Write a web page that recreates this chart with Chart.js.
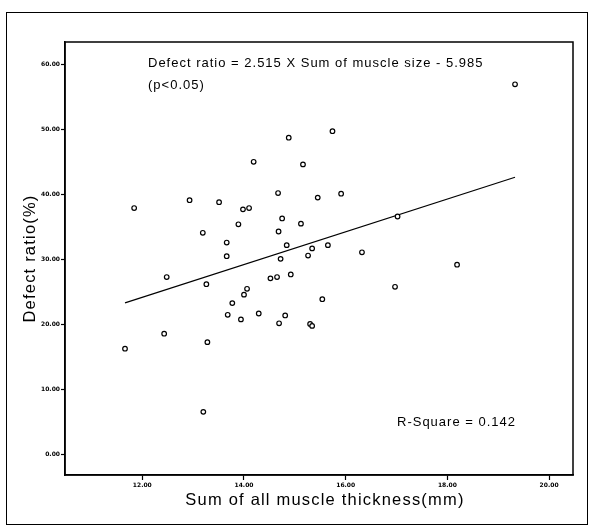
<!DOCTYPE html>
<html>
<head>
<meta charset="utf-8">
<script src="https://cdn.jsdelivr.net/npm/chart.js@4/dist/chart.umd.min.js"></script>
<style>
  body { margin: 0; background: #fff; }
  canvas { display: block; }
</style>
</head>
<body>
<canvas id="scatter" width="590" height="529"></canvas>
<script>
// Sum of all muscle thickness (mm)
const thickness = [15.74, 14.88, 14.19, 15.16, 14.67, 15.45, 15.91, 11.84, 12.93, 13.51,
    13.98, 14.10, 14.75, 13.89, 15.12, 14.68, 13.19, 13.66, 14.84, 15.34,
    15.65, 13.66, 15.26, 14.72, 12.48, 14.52, 14.65, 14.92, 13.26, 14.06,
    14.00, 13.77, 15.54, 13.68, 13.94, 14.29, 14.81, 14.69, 15.30, 15.34,
    12.43, 13.28, 11.66, 17.02, 16.32, 18.19, 16.97, 19.33, 13.20];
// Defect ratio (%)
const defect = [49.7, 48.7, 45.0, 44.6, 40.2, 39.5, 40.1, 37.9, 39.1, 38.8,
    37.7, 37.9, 36.3, 35.4, 35.5, 34.3, 34.1, 32.6, 32.2, 31.7,
    32.2, 30.5, 30.6, 30.1, 27.3, 27.1, 27.3, 27.7, 26.2, 25.5,
    24.6, 23.3, 23.9, 21.5, 20.8, 21.7, 21.4, 20.2, 20.1, 19.8,
    18.6, 17.3, 16.3, 36.6, 31.1, 29.2, 25.8, 56.9, 6.6];
// Fitted line ends (Defect ratio = 2.515 X Sum - 5.985)
const fitX = [11.66, 19.33];
const fitY = [23.34, 42.63];

const xTicks = [12, 14, 16, 18, 20];
const yTicks = [0, 10, 20, 30, 40, 50, 60];

const points = thickness.map((x, i) => ({ x: x, y: defect[i] }));
const fitLine = fitX.map((x, i) => ({ x: x, y: fitY[i] }));

const tickFont = { family: 'DejaVu Sans', size: 6, weight: 'bold' };

const decorations = {
    id: 'decorations',
    beforeDraw(chart) {
        const c = chart.ctx;
        c.save();
        c.fillStyle = '#fff';
        c.fillRect(0, 0, chart.width, chart.height);
        c.strokeStyle = '#000';
        c.lineWidth = 1;
        c.strokeRect(6.5, 12.5, 581, 512);
        c.restore();
    },
    afterDraw(chart) {
        const c = chart.ctx;
        const a = chart.chartArea;
        c.save();
        c.strokeStyle = '#000';
        c.lineWidth = 1.5;
        c.strokeRect(a.left, a.top, a.right - a.left, a.bottom - a.top);

        c.fillStyle = '#000';
        c.textBaseline = 'middle';
        c.font = '13px "Liberation Sans", Arial, sans-serif';
        c.letterSpacing = '1px';
        c.textAlign = 'left';
        c.fillText('Defect ratio = 2.515 X Sum of muscle size - 5.985', 148, 63);
        c.fillText('(p<0.05)', 148, 85);
        c.fillText('R-Square = 0.142', 397, 422);

        c.font = '16.5px "Liberation Sans", Arial, sans-serif';
        c.letterSpacing = '1.2px';
        c.textAlign = 'center';
        c.fillText('Sum of all muscle thickness(mm)', (a.left + a.right) / 2 + 6, 500);

        c.translate(30, (a.top + a.bottom) / 2);
        c.rotate(-Math.PI / 2);
        c.fillText('Defect ratio(%)', 0, 0);
        c.restore();
    }
};

new Chart(document.getElementById('scatter'), {
    type: 'scatter',
    data: {
        datasets: [
            {
                label: 'Defect ratio',
                data: points,
                pointRadius: 2.3,
                pointBorderWidth: 1.2,
                pointBorderColor: '#000',
                pointBackgroundColor: '#fff'
            },
            {
                label: 'Fit',
                type: 'line',
                data: fitLine,
                borderColor: '#000',
                borderWidth: 1.2,
                pointRadius: 0,
                fill: false
            }
        ]
    },
    options: {
        responsive: false,
        animation: false,
        layout: { padding: { top: 42, right: 17, left: 0, bottom: 0 } },
        plugins: {
            legend: { display: false },
            tooltip: { enabled: false }
        },
        scales: {
            x: {
                type: 'linear',
                min: 10.48,
                max: 20.47,
                afterFit: s => { s.height = 54; },
                afterBuildTicks: s => { s.ticks = xTicks.map(v => ({ value: v })); },
                border: { display: true, color: '#000', width: 1.5 },
                grid: { drawOnChartArea: false, tickLength: 5, color: '#000', tickWidth: 1.2 },
                ticks: {
                    color: '#000',
                    font: tickFont,
                    padding: 2,
                    maxRotation: 0,
                    callback: v => v.toFixed(2)
                }
            },
            y: {
                type: 'linear',
                min: -3.1,
                max: 63.4,
                afterFit: s => { s.width = 65; },
                afterBuildTicks: s => { s.ticks = yTicks.map(v => ({ value: v })); },
                border: { display: true, color: '#000', width: 1.5 },
                grid: { drawOnChartArea: false, tickLength: 4, color: '#000', tickWidth: 1.2 },
                ticks: {
                    color: '#000',
                    font: tickFont,
                    padding: 1,
                    callback: v => v.toFixed(2)
                }
            }
        }
    },
    plugins: [decorations]
});
</script>
</body>
</html>
